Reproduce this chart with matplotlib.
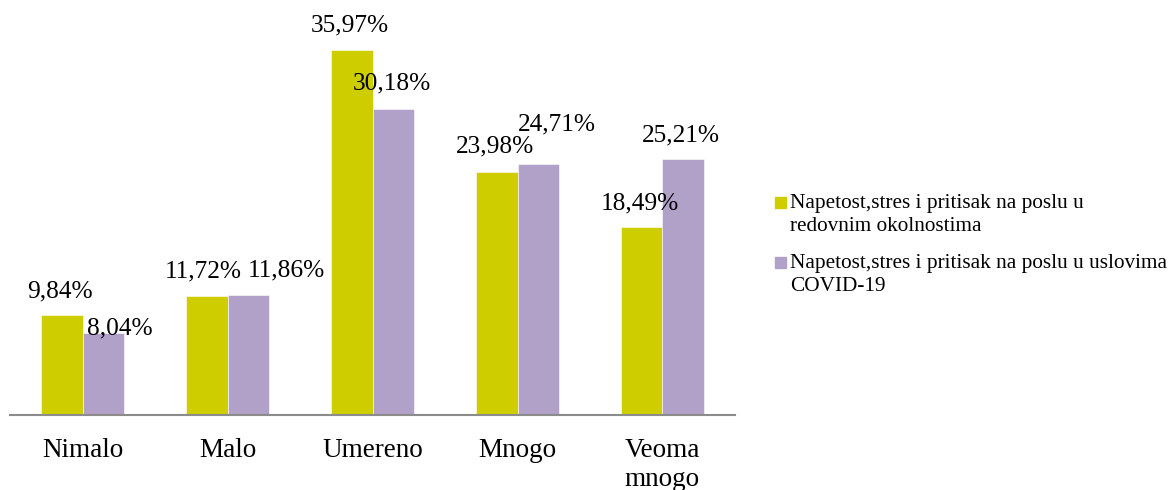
import matplotlib
matplotlib.use("Agg")
import matplotlib.pyplot as plt
from matplotlib.patches import Rectangle
import numpy as np

plt.rcParams['font.family'] = ['Liberation Serif', 'DejaVu Serif']

categories = ["Nimalo", "Malo", "Umereno", "Mnogo", "Veoma\nmnogo"]
regular = [9.84, 11.72, 35.97, 23.98, 18.49]
covid = [8.04, 11.86, 30.18, 24.71, 25.21]
series_names = ["Napetost,stres i pritisak na poslu u\nredovnim okolnostima",
                "Napetost,stres i pritisak na poslu u uslovima\nCOVID-19"]

green = "#CDCD00"
purple = "#B1A0C7"

# label nudges in pixels (dx, dy) where the original had them moved by hand
regular_nudge = [(-2, 24), (-4, 25), (-2, 24), (-2, 25), (-2, 24)]
covid_nudge = [(17, 5), (38, 24), (-1, 25), (19, 40), (-2, 24)]

fig = plt.figure(figsize=(11.71, 4.90), dpi=100)
ax = fig.add_axes([10 / 1171, 75 / 490, 725 / 1171, 406 / 490])

x = np.arange(len(categories))
w = 0.283
b1 = ax.bar(x - w / 2, regular, w, color=green, edgecolor="white", linewidth=0.4)
b2 = ax.bar(x + w / 2, covid, w, color=purple, edgecolor="white", linewidth=0.4)

for bars, vals, nudges in [(b1, regular, regular_nudge), (b2, covid, covid_nudge)]:
    for bar, v, (dx, dy) in zip(bars, vals, nudges):
        ax.annotate(f"{v:.2f}%".replace(".", ","),
                    (bar.get_x() + bar.get_width() / 2, v),
                    xytext=(dx, dy), textcoords="offset pixels",
                    ha="center", va="center", fontsize=18.3)

ax.set_xlim(-0.5, len(categories) - 0.5)
ax.set_ylim(0, 40)
ax.set_xticks(x)
ax.set_xticklabels(categories, fontsize=19.5, linespacing=1.2)
ax.tick_params(axis="x", length=0, pad=16.5)
ax.set_yticks([])
for s in ["top", "right", "left"]:
    ax.spines[s].set_visible(False)
ax.spines["bottom"].set_color("#8C8C8C")
ax.spines["bottom"].set_linewidth(1.5)

# legend drawn by hand so the square sits on the first line
for i, (name, col) in enumerate(zip(series_names, [green, purple])):
    top = 197 + i * 60
    fig.patches.append(Rectangle((775 / 1171, 1 - (top + 11) / 490), 11 / 1171, 11 / 490,
                                 transform=fig.transFigure, color=col))
    fig.text(790 / 1171, 1 - (top - 3) / 490, name, fontsize=15.3,
             va="top", ha="left", linespacing=1.27)

fig.savefig("out.png", dpi=100)
